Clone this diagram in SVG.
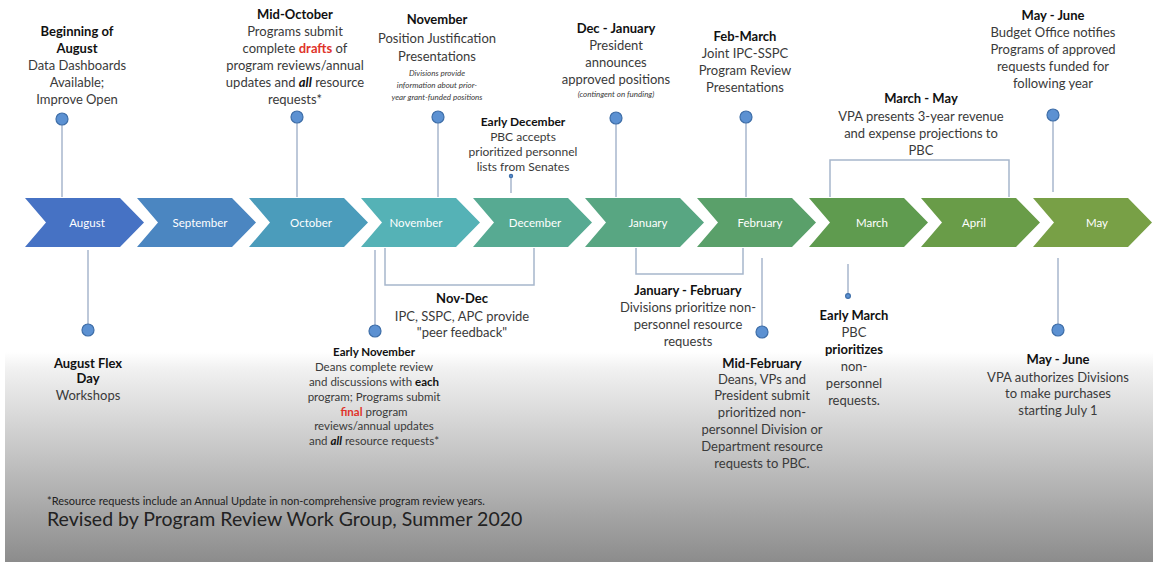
<svg xmlns="http://www.w3.org/2000/svg" width="1153" height="562" viewBox="0 0 1153 562">
  <defs>
    <linearGradient id="floor" x1="0" y1="0" x2="0" y2="1">
      <stop offset="0" stop-color="#ffffff"/>
      <stop offset="0.08" stop-color="#f1f1f1"/>
      <stop offset="1" stop-color="#8c8c8c"/>
    </linearGradient>
    <path id="chev" d="M0,0 L95,0 L119,24.5 L95,49 L0,49 L21,24.5 Z"/>
  </defs>
  <style>
    text { font-family: Lato, "Open Sans", "Liberation Sans", sans-serif; text-anchor: middle; fill: #3a3a3a; }
    .t { font-size: 13px; }
    .s { font-size: 12px; }
    .xs { font-size: 11.5px; }
    .b { font-weight: bold; fill: #111; }
    .i { font-style: italic; font-size: 8px; }
    .red { fill: #e0332a; font-weight: bold; }
    .bi { font-weight: bold; font-style: italic; fill: #111; }
    .mo { font-size: 11.5px; fill: #ffffff; }
    .ln { fill: none; stroke: #a7b6cc; stroke-width: 1.5; }
    .dot { fill: #5c91d2; stroke: #3e6ea8; stroke-width: 1.2; }
    .foot { text-anchor: start; fill: #222; }
  </style>

  <!-- page and lower shading -->
  <rect width="1153" height="562" fill="#ffffff"/>
  <rect x="5" y="352" width="1148" height="210" fill="url(#floor)"/>

  <!-- month chevrons -->
  <g id="months">
    <g id="m-august"><use href="#chev" x="25" y="198" fill="#4672c4"/><text class="mo" x="87" y="226.5">August</text></g>
    <g id="m-september"><use href="#chev" x="137" y="198" fill="#4b86c1"/><text class="mo" x="200" y="226.5">September</text></g>
    <g id="m-october"><use href="#chev" x="249" y="198" fill="#4b9cbb"/><text class="mo" x="311" y="226.5">October</text></g>
    <g id="m-november"><use href="#chev" x="361" y="198" fill="#55b2b6"/><text class="mo" x="416" y="226.5">November</text></g>
    <g id="m-december"><use href="#chev" x="473" y="198" fill="#57aa92"/><text class="mo" x="535" y="226.5">December</text></g>
    <g id="m-january"><use href="#chev" x="585" y="198" fill="#58a682"/><text class="mo" x="648" y="226.5">January</text></g>
    <g id="m-february"><use href="#chev" x="697" y="198" fill="#5aa06a"/><text class="mo" x="760" y="226.5">February</text></g>
    <g id="m-march"><use href="#chev" x="809" y="198" fill="#5f9b4f"/><text class="mo" x="872" y="226.5">March</text></g>
    <g id="m-april"><use href="#chev" x="921" y="198" fill="#699c48"/><text class="mo" x="974" y="226.5">April</text></g>
    <g id="m-may"><use href="#chev" x="1033" y="198" fill="#78a046"/><text class="mo" x="1097" y="226.5">May</text></g>
  </g>

  <!-- connectors: stems, brackets and end dots -->
  <g id="connectors">
    <line class="ln" x1="62" y1="125" x2="62" y2="197"/>
    <line class="ln" x1="297" y1="123" x2="297" y2="197"/>
    <line class="ln" x1="438" y1="123" x2="438" y2="197"/>
    <line class="ln" x1="511" y1="177" x2="511" y2="193"/>
    <line class="ln" x1="616" y1="124" x2="616" y2="197"/>
    <line class="ln" x1="746" y1="123" x2="746" y2="197"/>
    <polyline class="ln" points="830,197 830,160 1009,160 1009,197"/>
    <line class="ln" x1="1053" y1="121" x2="1053" y2="192"/>

    <line class="ln" x1="88" y1="250" x2="88" y2="324"/>
    <line class="ln" x1="375" y1="250" x2="375" y2="325"/>
    <polyline class="ln" points="385,248 385,285 534,285 534,248"/>
    <polyline class="ln" points="636,248 636,274 743,274 743,248"/>
    <line class="ln" x1="762" y1="258" x2="762" y2="326"/>
    <line class="ln" x1="848" y1="264" x2="848" y2="294"/>
    <line class="ln" x1="1058" y1="258" x2="1058" y2="324"/>

    <circle class="dot" cx="62" cy="119" r="6"/>
    <circle class="dot" cx="297" cy="117" r="6"/>
    <circle class="dot" cx="438" cy="117" r="6"/>
    <circle class="dot" cx="511" cy="176" r="1.6"/>
    <circle class="dot" cx="616" cy="118" r="6"/>
    <circle class="dot" cx="746" cy="117" r="6"/>
    <circle class="dot" cx="1053" cy="115" r="6"/>
    <circle class="dot" cx="88" cy="330" r="6"/>
    <circle class="dot" cx="375" cy="331" r="6"/>
    <circle class="dot" cx="762" cy="332" r="6"/>
    <circle class="dot" cx="848" cy="296" r="2.4"/>
    <circle class="dot" cx="1058" cy="330" r="6"/>
  </g>

  <!-- events above the timeline -->
  <g id="beginning-august">
    <text class="t"><tspan class="b" x="77" y="36">Beginning of</tspan><tspan class="b" x="77" y="53">August</tspan><tspan x="77" y="70">Data Dashboards</tspan><tspan x="77" y="87">Available;</tspan><tspan x="77" y="104">Improve Open</tspan></text>
  </g>
  <g id="mid-october">
    <text class="t"><tspan class="b" x="295" y="19">Mid-October</tspan><tspan x="295" y="36">Programs submit</tspan><tspan x="295" y="53">complete <tspan class="red">drafts</tspan> of</tspan><tspan x="295" y="70">program reviews/annual</tspan><tspan x="295" y="87">updates and <tspan class="bi">all</tspan> resource</tspan><tspan x="295" y="104">requests*</tspan></text>
  </g>
  <g id="november">
    <text class="t"><tspan class="b" x="437" y="24">November</tspan><tspan x="437" y="42.5">Position Justification</tspan><tspan x="437" y="60.5">Presentations</tspan></text>
    <text class="i"><tspan x="437" y="76">Divisions provide</tspan><tspan x="437" y="88">information about prior-</tspan><tspan x="437" y="100">year grant-funded positions</tspan></text>
  </g>
  <g id="early-december">
    <text class="s"><tspan class="b" x="523" y="125.5">Early December</tspan><tspan x="523" y="141">PBC accepts</tspan><tspan x="523" y="156">prioritized personnel</tspan><tspan x="523" y="170.5">lists from Senates</tspan></text>
  </g>
  <g id="dec-january">
    <text class="t"><tspan class="b" x="616" y="32.5">Dec - January</tspan><tspan x="616" y="50">President</tspan><tspan x="616" y="67">announces</tspan><tspan x="616" y="84">approved positions</tspan></text>
    <text class="i" x="616" y="97">(contingent on funding)</text>
  </g>
  <g id="feb-march">
    <text class="t"><tspan class="b" x="745" y="40.5">Feb-March</tspan><tspan x="745" y="57.5">Joint IPC-SSPC</tspan><tspan x="745" y="74.5">Program Review</tspan><tspan x="745" y="91.5">Presentations</tspan></text>
  </g>
  <g id="march-may">
    <text class="t"><tspan class="b" x="921" y="103">March - May</tspan><tspan x="921" y="120.5">VPA presents 3-year revenue</tspan><tspan x="921" y="137.5">and expense projections to</tspan><tspan x="921" y="154.5">PBC</tspan></text>
  </g>
  <g id="may-june-notify">
    <text class="t"><tspan class="b" x="1053" y="19.5">May - June</tspan><tspan x="1053" y="36.5">Budget Office notifies</tspan><tspan x="1053" y="53.5">Programs of approved</tspan><tspan x="1053" y="70.5">requests funded for</tspan><tspan x="1053" y="87.5">following year</tspan></text>
  </g>

  <!-- events below the timeline -->
  <g id="august-flex">
    <text class="t"><tspan class="b" x="88" y="367.5">August Flex</tspan><tspan class="b" x="88" y="383">Day</tspan><tspan x="88" y="400">Workshops</tspan></text>
  </g>
  <g id="early-november">
    <text class="xs"><tspan class="b" x="374" y="356">Early November</tspan><tspan x="374" y="371">Deans complete review</tspan><tspan x="374" y="386">and discussions with <tspan class="b">each</tspan></tspan><tspan x="374" y="401">program; Programs submit</tspan><tspan x="374" y="415.5"><tspan class="red">final</tspan> program</tspan><tspan x="374" y="430">reviews/annual updates</tspan><tspan x="374" y="444.5">and <tspan class="bi">all</tspan> resource requests*</tspan></text>
  </g>
  <g id="nov-dec">
    <text class="t"><tspan class="b" x="462" y="302.5">Nov-Dec</tspan><tspan x="462" y="320.5">IPC, SSPC, APC provide</tspan><tspan x="462" y="336.5">"peer feedback"</tspan></text>
  </g>
  <g id="january-february">
    <text class="t"><tspan class="b" x="688" y="294.5">January - February</tspan><tspan x="688" y="311.5">Divisions prioritize non-</tspan><tspan x="688" y="328.5">personnel resource</tspan><tspan x="688" y="345.5">requests</tspan></text>
  </g>
  <g id="mid-february">
    <text class="t"><tspan class="b" x="762" y="367.5">Mid-February</tspan><tspan x="762" y="383.5">Deans, VPs and</tspan><tspan x="762" y="400">President submit</tspan><tspan x="762" y="417">prioritized non-</tspan><tspan x="762" y="434">personnel Division or</tspan><tspan x="762" y="451">Department resource</tspan><tspan x="762" y="467.5">requests to PBC.</tspan></text>
  </g>
  <g id="early-march">
    <text class="t"><tspan class="b" x="854" y="319.5">Early March</tspan><tspan x="854" y="336.5">PBC</tspan><tspan class="b" x="854" y="353.5">prioritizes</tspan><tspan x="854" y="370.5">non-</tspan><tspan x="854" y="387.5">personnel</tspan><tspan x="854" y="404.5">requests.</tspan></text>
  </g>
  <g id="may-june-authorize">
    <text class="t"><tspan class="b" x="1058" y="363.5">May - June</tspan><tspan x="1058" y="381.5">VPA authorizes Divisions</tspan><tspan x="1058" y="397.5">to make purchases</tspan><tspan x="1058" y="414.5">starting July 1</tspan></text>
  </g>

  <!-- footnote and credit -->
  <g id="footer">
    <text class="foot" x="47" y="505" font-size="11">*Resource requests include an Annual Update in non-comprehensive program review years.</text>
    <text class="foot" x="47" y="526" font-size="19.5">Revised by Program Review Work Group, Summer 2020</text>
  </g>
</svg>
